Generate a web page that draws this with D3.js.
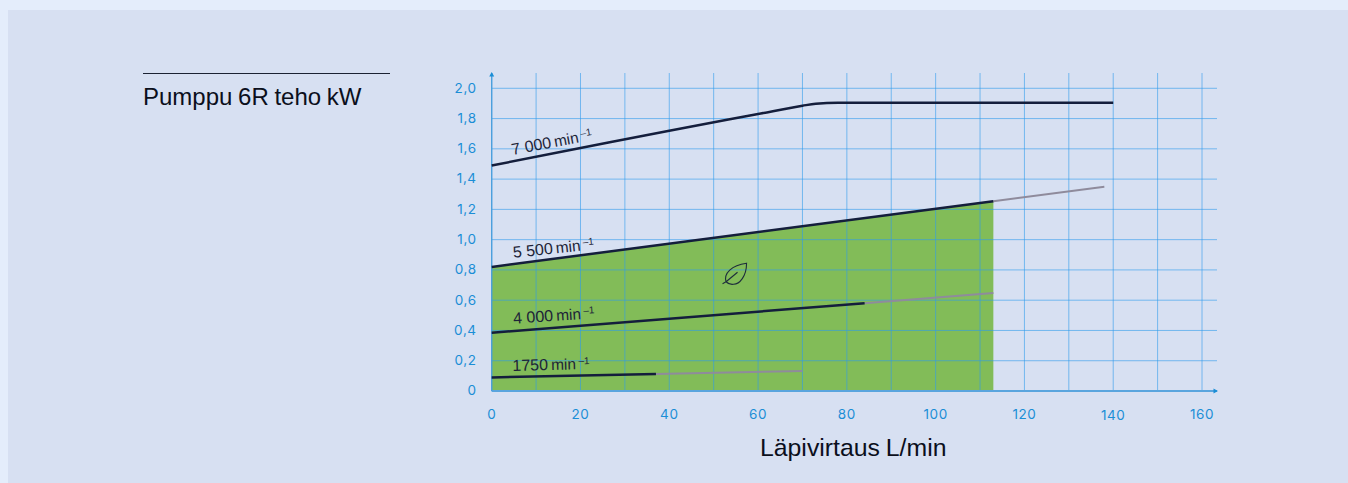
<!DOCTYPE html>
<html>
  <head>
    <script src="https://d3js.org/d3.v7.min.js"></script>
    <style>
      html, body { margin: 0; padding: 0; background: #e4edfb; overflow: hidden; }
      svg { display: block; }
      text { font-family: "Liberation Sans", sans-serif; }
      .tick text { font-family: Inter, sans-serif; font-size: 13.5px; fill: #1b8ed6; letter-spacing: 0.6px; }
      .grid line { stroke: #2f9bec; stroke-opacity: 0.6; stroke-width: 1; }
      .grid path { display: none; }
    </style>
  </head>
  <body>
    <script>
      // flow L/min on x, power kW on y
      let xTicks = [0, 20, 40, 60, 80, 100, 120, 140, 160];
      let xGrid = [0, 10, 20, 30, 40, 50, 60, 70, 80, 90, 100, 110, 120, 130, 140, 150, 160];
      let yTicks = [0, 0.2, 0.4, 0.6, 0.8, 1.0, 1.2, 1.4, 1.6, 1.8, 2.0];
      let yLabels = ["0", "0,2", "0,4", "0,6", "0,8", "1,0", "1,2", "1,4", "1,6", "1,8", "2,0"];

      let flow7000 = [0, 20, 40, 60, 70, 73, 78, 140];
      let power7000 = [1.49, 1.605, 1.72, 1.83, 1.885, 1.898, 1.905, 1.905];
      let flow5500 = [0, 113];
      let power5500 = [0.82, 1.253];
      let flow5500ext = [113, 138];
      let power5500ext = [1.253, 1.35];
      let flow4000 = [0, 84];
      let power4000 = [0.385, 0.58];
      let flow4000ext = [84, 113];
      let power4000ext = [0.58, 0.647];
      let flow1750 = [0, 37];
      let power1750 = [0.09, 0.112];
      let flow1750ext = [37, 70];
      let power1750ext = [0.112, 0.132];

      let speedLabels = ["7 000", "5 500", "4 000", "1750"];

      let width = 1348; let height = 483;
      let left = 491.7; let bottom = 391;

      let svg = d3.select("body").append("svg")
          .attr("width", width).attr("height", height);

      svg.append("rect").attr("x", 8).attr("y", 10)
          .attr("width", width - 8).attr("height", height - 10)
          .attr("fill", "#d7e0f2");

      let x = d3.scaleLinear().domain([0, 160]).range([left, 1202]);
      let y = d3.scaleLinear().domain([0, 2]).range([bottom, 88.3]);
      let xEnd = x.invert(1217);
      let yEnd = y.invert(73);

      // green area goes under the grid
      let area = d3.area().x(d => x(d[0])).y0(y(0)).y1(d => y(d[1]));
      svg.append("path").datum(d3.zip(flow5500, power5500))
          .attr("d", area).attr("fill", "#82bc58");

      let xAxis = d3.axisBottom(x).tickValues(xGrid).tickSize(bottom - 73).offset(0)
          .tickFormat(d => xTicks.includes(d) ? d : "");
      let gx = svg.append("g").classed("grid", true)
          .attr("transform", "translate(0,73)").call(xAxis);
      gx.selectAll(".tick text")
          .attr("y", bottom - 73 + 18)
          .attr("dy", d => d == 140 ? 11 : 10);

      let yAxis = d3.axisLeft(y).tickValues(yTicks).tickSize(0).offset(0)
          .tickFormat((d, i) => yLabels[i]);
      let gy = svg.append("g").classed("grid", true)
          .attr("transform", "translate(" + left + ",0)").call(yAxis);
      gy.selectAll(".tick line").attr("x1", 0).attr("x2", 1217 - left);
      gy.selectAll(".tick text").attr("x", -15).attr("text-anchor", "end");

      // axis lines with small arrowheads
      svg.append("line").attr("x1", x(0)).attr("x2", x(xEnd))
          .attr("y1", y(0)).attr("y2", y(0))
          .attr("stroke", "#5aa5de").attr("stroke-width", 2);
      svg.append("line").attr("x1", x(0)).attr("x2", x(0))
          .attr("y1", y(0)).attr("y2", y(yEnd))
          .attr("stroke", "#4a9fdc").attr("stroke-width", 1.3);
      svg.append("path").attr("fill", "#1b8ed6")
          .attr("d", d3.line()([[x(xEnd) + 1, y(0)], [x(xEnd) - 3.5, y(0) - 2.5], [x(xEnd) - 3.5, y(0) + 2.5]]));
      svg.append("path").attr("fill", "#1b8ed6")
          .attr("d", d3.line()([[x(0), y(yEnd) - 1], [x(0) - 2.5, y(yEnd) + 3.5], [x(0) + 2.5, y(yEnd) + 3.5]]));

      let line = d3.line().x(d => x(d[0])).y(d => y(d[1]));
      let smooth = d3.line().curve(d3.curveMonotoneX).x(d => x(d[0])).y(d => y(d[1]));

      function drawLine(xs, ys, color, w, gen) {
          svg.append("path").datum(d3.zip(xs, ys))
              .attr("d", gen).attr("fill", "none")
              .attr("stroke", color).attr("stroke-width", w);
      }
      let gray = "#8f8b9c"; let navy = "#141e3c";
      drawLine(flow5500ext, power5500ext, gray, 2, line);
      drawLine(flow4000ext, power4000ext, gray, 2, line);
      drawLine(flow1750ext, power1750ext, gray, 2, line);
      drawLine(flow7000, power7000, navy, 2.5, smooth);
      drawLine(flow5500, power5500, navy, 2.5, line);
      drawLine(flow4000, power4000, navy, 2.5, line);
      drawLine(flow1750, power1750, navy, 2.5, line);

      // speed labels sit rotated along their lines
      let labelX = [4.7, 4.9, 4.9, 4.7];
      let labelY = [1.56, 0.88, 0.445, 0.132];
      let labelAngle = [-10.5, -6, -3.8, -1.5];
      speedLabels.forEach(function(s, i) {
          let t = svg.append("text").attr("fill", "#1d2438").attr("font-size", 16)
              .attr("transform", "translate(" + x(labelX[i]) + "," + y(labelY[i]) + ") rotate(" + labelAngle[i] + ")");
          t.append("tspan").text(s);
          t.append("tspan").attr("dx", 3).attr("font-size", 15.5).text("min");
          t.append("tspan").attr("dx", 2.5).attr("dy", -5).attr("font-size", 10).text("\u20131");
      });

      // leaf icon
      let leaf = svg.append("g")
          .attr("transform", "translate(" + x(52) + "," + y(0.778) + ")")
          .attr("fill", "none").attr("stroke", "#1d2d3c").attr("stroke-width", 1.1);
      leaf.append("path").attr("d", "M0 10.5 L3.5 8.5 C1 0 9 -8 24 -10 C24 3 17 11 11 11 C8 11.5 5.5 10.5 3.5 8.5 M3.5 8.5 L15 -1");

      svg.append("line").attr("x1", 143).attr("x2", 390).attr("y1", 73.5).attr("y2", 73.5)
          .attr("stroke", "#1b2233").attr("stroke-width", 1);
      svg.append("text").attr("x", 143).attr("y", 105)
          .attr("font-size", 24).attr("word-spacing", -1).attr("fill", "#0b0f1c").text("Pumppu 6R teho kW");
      svg.append("text").attr("x", 760).attr("y", 456)
          .attr("font-size", 24.8).attr("word-spacing", -1).attr("fill", "#0b0f1c").text("Läpivirtaus L/min");
    </script>
  </body>
</html>
